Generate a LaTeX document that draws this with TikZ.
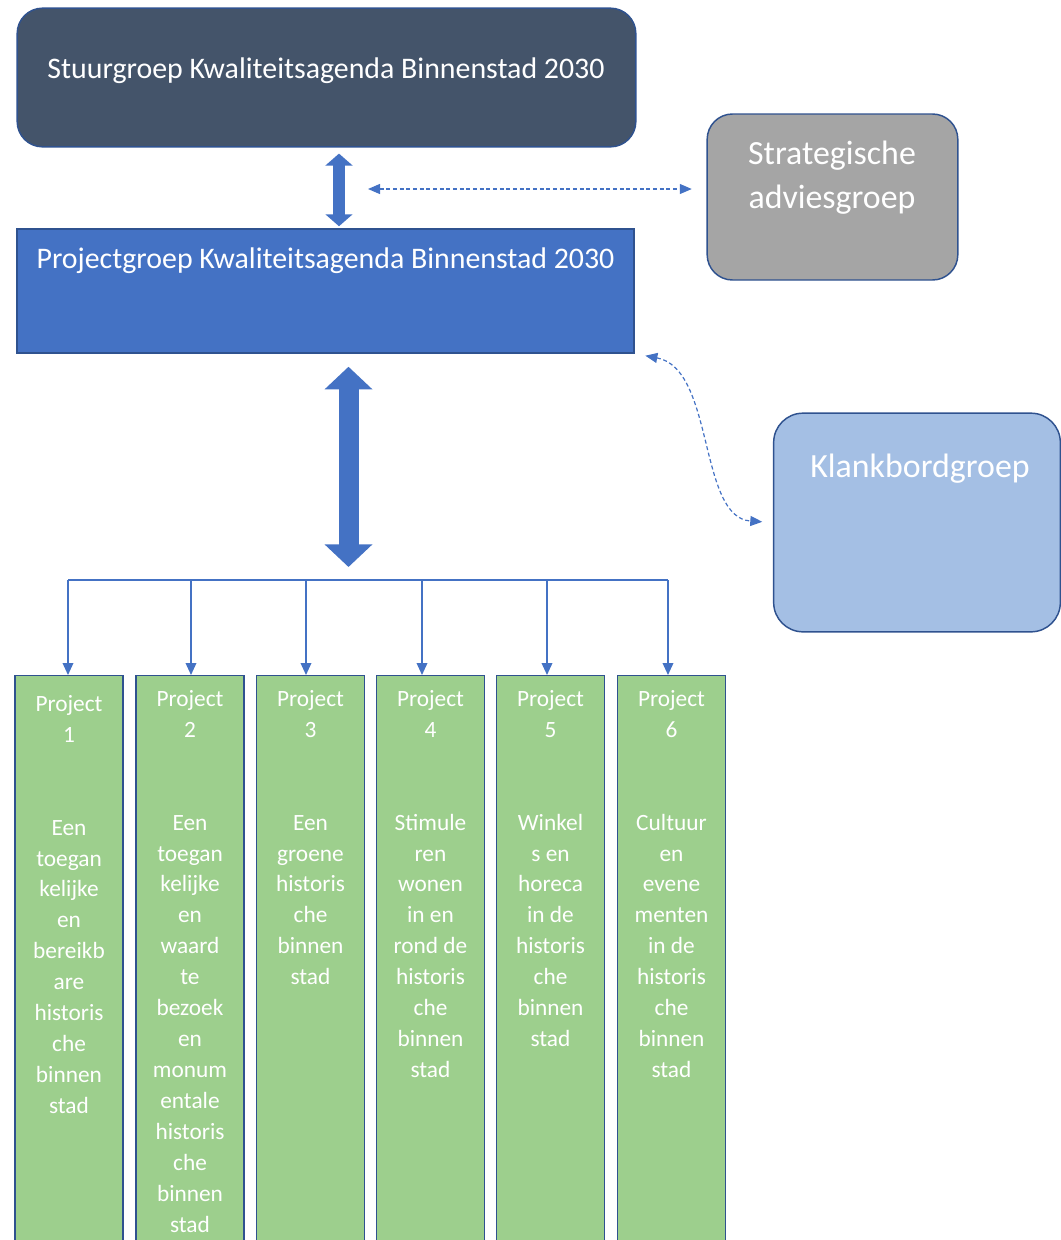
\documentclass[tikz,border=0pt]{standalone}
\usepackage{fontspec}
\setmainfont{Carlito}
\usetikzlibrary{arrows.meta}

\definecolor{slate}{HTML}{44546A}
\definecolor{accent}{HTML}{4472C4}
\definecolor{rim}{HTML}{2F528F}
\definecolor{stone}{HTML}{A5A5A5}
\definecolor{sky}{HTML}{A4BFE4}
\definecolor{leaf}{HTML}{9DCF8D}

\begin{document}
\begin{tikzpicture}[x=0.75pt,y=-0.75pt,
    box/.style={draw=rim,line width=1.1pt,inner sep=0pt},
    caption/.style={text=white,inner sep=0pt,align=center},
    bigfont/.style={font=\fontsize{22.4}{27}\selectfont},
    hugefont/.style={font=\fontsize{25.4}{33}\selectfont},
    smallfont/.style={font=\fontsize{17.5}{23.2}\selectfont},
    project/.style={box,fill=leaf,minimum width=81pt,minimum height=500pt,anchor=north},
    dotline/.style={accent,line width=0.9pt,dash pattern=on 3pt off 2pt,
      {Triangle[width=7.5pt,length=9pt]}-{Triangle[width=7.5pt,length=9pt]}},
    bus/.style={accent,line width=1.1pt}]

  \useasboundingbox (0,0) rectangle (1061,1240);
  \clip (0,0) rectangle (1061,1240);

  % groups
  \node[box,fill=slate,rounded corners=19pt,minimum width=464pt,minimum height=104pt] (sg) at (326.5,77.5) {};
  \node[box,fill=accent,minimum width=463pt,minimum height=93pt] (pg) at (325.5,291) {};
  \node[box,fill=stone,rounded corners=19pt,minimum width=188pt,minimum height=124.5pt] (sa) at (832.5,197) {};
  \node[box,fill=sky,rounded corners=22pt,minimum width=215pt,minimum height=164pt] (kb) at (917,522.5) {};

  \node[caption,bigfont,anchor=base] (sgt) at (326,78) {Stuurgroep Kwaliteitsagenda Binnenstad 2030};
  \node[caption,bigfont,anchor=base] (pgt) at (325.5,268) {Projectgroep Kwaliteitsagenda Binnenstad 2030};
  \node[caption,hugefont,anchor=north] (sat) at (832,141) {Strategische\\adviesgroep};
  \node[caption,hugefont,anchor=base] (kbt) at (920,477) {Klankbordgroep};

  % projects
  \foreach \i/\cx/\dx/\ty/\txt in {
      1/69/-1/695/{Een\\toegan\\kelijke\\en\\bereikb\\are\\historis\\che\\binnen\\stad},
      2/190/1/690/{Een\\toegan\\kelijke\\en\\waard\\te\\bezoek\\en\\monum\\entale\\historis\\che\\binnen\\stad},
      3/310.5/-4.5/690/{Een\\groene\\historis\\che\\binnen\\stad},
      4/430.5/-8.5/690/{Stimule\\ren\\wonen\\in en\\rond de\\historis\\che\\binnen\\stad},
      5/550.5/-3.5/690/{Winkel\\s en\\horeca\\in de\\historis\\che\\binnen\\stad},
      6/671.5/-3.5/690/{Cultuur\\en\\evene\\menten\\in de\\historis\\che\\binnen\\stad}} {
    \node[project] (p\i) at (\cx,675) {};
    \node[caption,smallfont,anchor=north] (pt\i) at (\cx,\ty) {Project\\\i\\~\\~\\\txt};
    \coordinate (in\i) at ([shift={(\dx,0)}]p\i.north);
  }

  % connectors
  \coordinate (bus) at (348.5,580);
  \coordinate (dl) at (368,189);

  \draw[accent,line width=9pt,{Triangle[width=20pt,length=9pt]}-{Triangle[width=20pt,length=9pt]}]
    ([shift={(12.5,6)}]sg.south) -- ([shift={(13.5,-2)}]pg.north);
  \draw[accent,line width=15pt,{Triangle[width=35pt,length=17pt]}-{Triangle[width=35pt,length=17pt]}]
    ([shift={(23,13)}]pg.south) -- ([shift={(0,-13)}]bus);

  \draw[dotline] (dl) -- (sa.west |- dl) [shorten >=11pt];
  \draw[dotline,shorten <=8pt,shorten >=8pt] (pg.south east)
    .. controls +(80,15) and +(-75,-5) .. (kb.west);

  \draw[bus] (in1 |- bus) -- (in6 |- bus);
  \foreach \i in {1,...,6}
    \draw[bus,-{Triangle[width=8pt,length=9pt]}] (in\i |- bus) -- (in\i);

\end{tikzpicture}
\end{document}
